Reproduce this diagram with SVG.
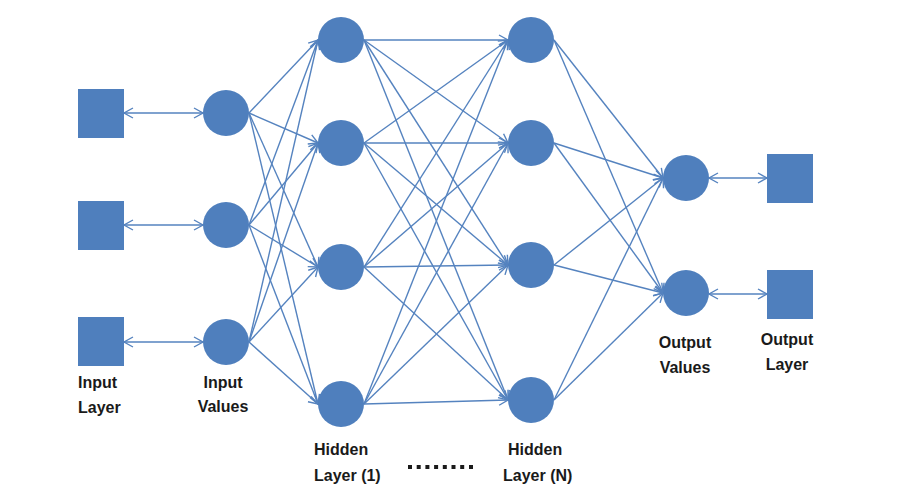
<svg xmlns="http://www.w3.org/2000/svg" width="900" height="502" viewBox="0 0 900 502">
  <defs>
    <marker id="ah" markerUnits="userSpaceOnUse" markerWidth="14" markerHeight="14" viewBox="-12 -7 14 14" refX="0" refY="0" orient="auto-start-reverse">
      <path d="M-9,-5 L0,0 L-9,5" fill="none" stroke="#5583BF" stroke-width="1.4"/>
    </marker>
  </defs>
  <style>
    .n { fill: #4F7FBD; }
    .e { stroke: #5583BF; stroke-width: 1.4; fill: none; marker-end: url(#ah); }
    .b { stroke: #5583BF; stroke-width: 1.4; fill: none; marker-start: url(#ah); marker-end: url(#ah); }
    .t { font-family: "Liberation Sans", Arial, sans-serif; font-weight: bold; font-size: 16px; fill: #1a1a1a; }
  </style>
  <rect width="900" height="502" fill="#ffffff"/>

  <g id="connectors">
    <!-- input squares <-> input values -->
    <line class="b" x1="124" y1="113" x2="203" y2="113"/>
    <line class="b" x1="124" y1="225" x2="203" y2="225"/>
    <line class="b" x1="124" y1="342" x2="203" y2="342"/>
    <!-- input values -> hidden 1 -->
    <line class="e" x1="249" y1="113" x2="318" y2="40"/>
    <line class="e" x1="249" y1="113" x2="318" y2="143"/>
    <line class="e" x1="249" y1="113" x2="318" y2="267"/>
    <line class="e" x1="249" y1="113" x2="318" y2="404"/>
    <line class="e" x1="249" y1="225" x2="318" y2="40"/>
    <line class="e" x1="249" y1="225" x2="318" y2="143"/>
    <line class="e" x1="249" y1="225" x2="318" y2="267"/>
    <line class="e" x1="249" y1="225" x2="318" y2="404"/>
    <line class="e" x1="249" y1="342" x2="318" y2="40"/>
    <line class="e" x1="249" y1="342" x2="318" y2="143"/>
    <line class="e" x1="249" y1="342" x2="318" y2="267"/>
    <line class="e" x1="249" y1="342" x2="318" y2="404"/>
    <!-- hidden 1 -> hidden N -->
    <line class="e" x1="364" y1="40" x2="508" y2="40"/>
    <line class="e" x1="364" y1="40" x2="508" y2="143"/>
    <line class="e" x1="364" y1="40" x2="508" y2="265"/>
    <line class="e" x1="364" y1="40" x2="508" y2="400"/>
    <line class="e" x1="364" y1="143" x2="508" y2="40"/>
    <line class="e" x1="364" y1="143" x2="508" y2="143"/>
    <line class="e" x1="364" y1="143" x2="508" y2="265"/>
    <line class="e" x1="364" y1="143" x2="508" y2="400"/>
    <line class="e" x1="364" y1="267" x2="508" y2="40"/>
    <line class="e" x1="364" y1="267" x2="508" y2="143"/>
    <line class="e" x1="364" y1="267" x2="508" y2="265"/>
    <line class="e" x1="364" y1="267" x2="508" y2="400"/>
    <line class="e" x1="364" y1="404" x2="508" y2="40"/>
    <line class="e" x1="364" y1="404" x2="508" y2="143"/>
    <line class="e" x1="364" y1="404" x2="508" y2="265"/>
    <line class="e" x1="364" y1="404" x2="508" y2="400"/>
    <!-- hidden N -> output values -->
    <line class="e" x1="554" y1="40" x2="663" y2="178"/>
    <line class="e" x1="554" y1="40" x2="663" y2="293"/>
    <line class="e" x1="554" y1="143" x2="663" y2="178"/>
    <line class="e" x1="554" y1="143" x2="663" y2="293"/>
    <line class="e" x1="554" y1="265" x2="663" y2="178"/>
    <line class="e" x1="554" y1="265" x2="663" y2="293"/>
    <line class="e" x1="554" y1="400" x2="663" y2="178"/>
    <line class="e" x1="554" y1="400" x2="663" y2="293"/>
    <!-- output values <-> output squares -->
    <line class="b" x1="709" y1="178" x2="767" y2="178"/>
    <line class="b" x1="709" y1="294" x2="767" y2="294"/>
  </g>

  <g id="input-layer">
    <rect class="n" x="78" y="89" width="46" height="49"/>
    <rect class="n" x="78" y="201" width="46" height="49"/>
    <rect class="n" x="78" y="317" width="46" height="49"/>
  </g>
  <g id="input-values">
    <circle class="n" cx="226" cy="113" r="23"/>
    <circle class="n" cx="226" cy="225" r="23"/>
    <circle class="n" cx="226" cy="342" r="23"/>
  </g>
  <g id="hidden-layer-1">
    <circle class="n" cx="341" cy="40" r="23"/>
    <circle class="n" cx="341" cy="143" r="23"/>
    <circle class="n" cx="341" cy="267" r="23"/>
    <circle class="n" cx="341" cy="404" r="23"/>
  </g>
  <g id="hidden-layer-n">
    <circle class="n" cx="531" cy="40" r="23"/>
    <circle class="n" cx="531" cy="143" r="23"/>
    <circle class="n" cx="531" cy="265" r="23"/>
    <circle class="n" cx="531" cy="400" r="23"/>
  </g>
  <g id="output-values">
    <circle class="n" cx="686" cy="178" r="23"/>
    <circle class="n" cx="686" cy="293" r="23"/>
  </g>
  <g id="output-layer">
    <rect class="n" x="767" y="154" width="46" height="49"/>
    <rect class="n" x="767" y="270" width="46" height="49"/>
  </g>

  <g id="labels">
    <text class="t" x="78" y="388">Input</text>
    <text class="t" x="78" y="413">Layer</text>
    <text class="t" x="223" y="388" text-anchor="middle">Input</text>
    <text class="t" x="223" y="412" text-anchor="middle">Values</text>
    <text class="t" x="314" y="455">Hidden</text>
    <text class="t" x="314" y="481">Layer (1)</text>
    <text class="t" x="508" y="455">Hidden</text>
    <text class="t" x="503" y="481">Layer (N)</text>
    <text class="t" x="685" y="348" text-anchor="middle">Output</text>
    <text class="t" x="685" y="373" text-anchor="middle">Values</text>
    <text class="t" x="787" y="345" text-anchor="middle">Output</text>
    <text class="t" x="787" y="370" text-anchor="middle">Layer</text>
  </g>
  <g id="dots" fill="#1a1a1a">
    <rect x="408" y="465" width="4" height="4"/>
    <rect x="416.7" y="465" width="4" height="4"/>
    <rect x="425.4" y="465" width="4" height="4"/>
    <rect x="434.1" y="465" width="4" height="4"/>
    <rect x="442.8" y="465" width="4" height="4"/>
    <rect x="451.5" y="465" width="4" height="4"/>
    <rect x="460.2" y="465" width="4" height="4"/>
    <rect x="469" y="465" width="4" height="4"/>
  </g>
</svg>
